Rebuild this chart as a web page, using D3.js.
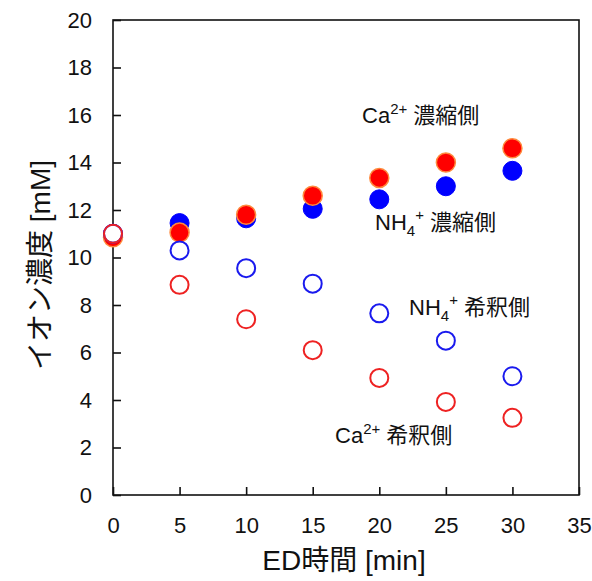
<!DOCTYPE html>
<html>
<head>
<meta charset="utf-8">
<script src="https://cdn.jsdelivr.net/npm/d3@7"></script>
<style>
  body { margin: 0; background: #fff; }
  text { font-family: "Liberation Sans", Arial, "Noto Sans CJK JP", sans-serif; fill: #111; }
</style>
</head>
<body>
<svg></svg>
<script>
const times = [0, 5, 10, 15, 20, 25, 30];
const caConc = [10.85, 11.05, 11.8, 12.6, 13.35, 14.0, 14.6];
const nh4Conc = [11.0, 11.45, 11.65, 12.05, 12.45, 13.0, 13.65];
const nh4Dil = [11.0, 10.3, 9.55, 8.9, 7.65, 6.5, 5.0];
const caDil = [11.0, 8.85, 7.4, 6.1, 4.93, 3.92, 3.25];
const xTicks = [0, 5, 10, 15, 20, 25, 30, 35];
const yTicks = [0, 2, 4, 6, 8, 10, 12, 14, 16, 18, 20];

const width = 592;
const height = 581;
const svg = d3.select("svg")
              .attr("width", width)
              .attr("height", height);

const x = d3.scaleLinear().domain([0, 35]).range([113, 579]);
const y = d3.scaleLinear().domain([0, 20]).range([495, 20]);

// frame
svg.append("rect")
    .attr("x", 113).attr("y", 20)
    .attr("width", 466).attr("height", 475)
    .attr("fill", "none").attr("stroke", "#111").attr("stroke-width", 1.6);

svg.append("g")
    .attr("transform", "translate(0,495)")
    .call(d3.axisBottom(x).tickValues(xTicks).tickSizeInner(-8).tickSizeOuter(0).tickPadding(22))
    .call(g => g.select(".domain").remove())
    .call(g => g.selectAll("line").attr("stroke", "#111").attr("stroke-width", 1.6))
    .call(g => g.selectAll("text").attr("font-size", 22).attr("font-family", "Liberation Sans"));

svg.append("g")
    .attr("transform", "translate(113,0)")
    .call(d3.axisLeft(y).tickValues(yTicks).tickSizeInner(-8).tickSizeOuter(0).tickPadding(21))
    .call(g => g.select(".domain").remove())
    .call(g => g.selectAll("line").attr("stroke", "#111").attr("stroke-width", 1.6))
    .call(g => g.selectAll("text").attr("font-size", 22).attr("font-family", "Liberation Sans"));

// axis titles
svg.append("text")
    .attr("x", 344).attr("y", 570)
    .attr("text-anchor", "middle")
    .attr("font-size", 28)
    .text("ED時間 [min]");

svg.append("text")
    .attr("transform", "translate(50,265) rotate(-90)")
    .attr("text-anchor", "middle")
    .attr("font-size", 28)
    .text("イオン濃度 [mM]");

function dots(values, fill, stroke, sw) {
  svg.append("g").selectAll("circle")
      .data(values.map((v, i) => [times[i], v]))
      .enter()
      .append("circle")
        .attr("cx", d => x(d[0]))
        .attr("cy", d => y(d[1]))
        .attr("r", fill === "#fff" || fill === "none" ? 9 : 9.5)
        .attr("fill", fill)
        .attr("stroke", stroke)
        .attr("stroke-width", sw);
}

dots(nh4Conc, "#0000ff", "#0000ff", 1);
dots(caConc, "#ff0000", "#ff8a3d", 1.5);
dots(nh4Dil, "#fff", "#1a1aee", 2);
dots(caDil, "none", "#ee2222", 2);

// series labels
function label(px, py, ion, sup, sub, jp) {
  const t = svg.append("text").attr("x", px).attr("y", py).attr("font-size", 22);
  t.append("tspan").text(ion);
  if (sub) t.append("tspan").attr("font-size", 15).attr("dy", 6).text(sub);
  t.append("tspan").attr("font-size", 15).attr("dy", sub ? -16 : -9).text(sup);
  t.append("tspan").attr("dy", sub ? 10 : 9).text(" " + jp);
}

label(362, 123, "Ca", "2+", null, "濃縮側");
label(375, 230, "NH", "+", "4", "濃縮側");
label(409, 315, "NH", "+", "4", "希釈側");
label(335, 443, "Ca", "2+", null, "希釈側");
</script>
</body>
</html>
